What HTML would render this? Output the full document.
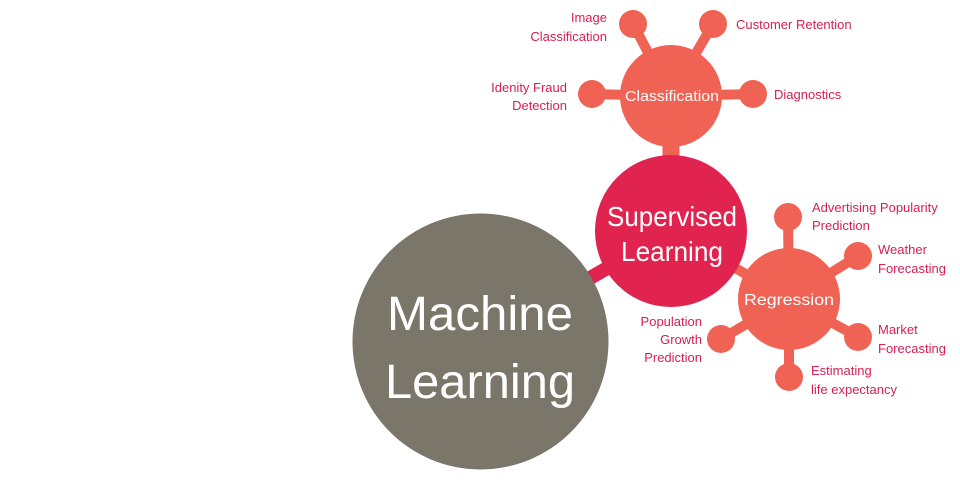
<!DOCTYPE html>
<html><head><meta charset="utf-8"><style>
html,body{margin:0;padding:0;background:#fff;}
svg{display:block;}
text{font-family:"Liberation Sans",sans-serif;}
.l{fill:#d81e52;font-size:13px;}
</style></head><body>
<svg width="960" height="494" viewBox="0 0 960 494">
<g stroke="#f06253" stroke-width="10" stroke-linecap="butt">
<line x1="671" y1="96" x2="633" y2="24"/>
<line x1="671" y1="96" x2="713" y2="24"/>
<line x1="671" y1="96" x2="592" y2="94"/>
<line x1="671" y1="96" x2="753" y2="94"/>
<line x1="789" y1="299" x2="788" y2="217"/>
<line x1="789" y1="299" x2="858" y2="256"/>
<line x1="789" y1="299" x2="858" y2="337"/>
<line x1="789" y1="299" x2="789" y2="377"/>
<line x1="789" y1="299" x2="721" y2="339"/>
<line x1="671" y1="231" x2="789" y2="299"/>
</g>
<line x1="671" y1="96" x2="671" y2="231" stroke="#f06253" stroke-width="17"/>
<line x1="480" y1="342" x2="671" y2="231" stroke="#e0234f" stroke-width="14"/>
<g fill="#f06253">
<circle cx="633" cy="24" r="14"/><circle cx="713" cy="24" r="14"/>
<circle cx="592" cy="94" r="14"/><circle cx="753" cy="94" r="14"/>
<circle cx="788" cy="217" r="14"/><circle cx="858" cy="256" r="14"/>
<circle cx="858" cy="337" r="14"/><circle cx="789" cy="377" r="14"/>
<circle cx="721" cy="339" r="14"/>
<circle cx="671" cy="96" r="51"/>
<circle cx="789" cy="299" r="51"/>
</g>
<circle cx="480.5" cy="341.5" r="128" fill="#7b766a"/>
<circle cx="671" cy="231" r="76" fill="#e0234f"/>
<g fill="#fff" text-anchor="middle">
<text x="480" y="330" font-size="48" textLength="186" lengthAdjust="spacingAndGlyphs">Machine</text>
<text x="480" y="398" font-size="48" textLength="190" lengthAdjust="spacingAndGlyphs">Learning</text>
<text x="672" y="226" font-size="28" textLength="130" lengthAdjust="spacingAndGlyphs">Supervised</text>
<text x="672" y="261" font-size="28" textLength="102" lengthAdjust="spacingAndGlyphs">Learning</text>
<text x="672" y="101" font-size="15" textLength="94" lengthAdjust="spacingAndGlyphs">Classification</text>
<text x="789" y="305" font-size="16" textLength="90" lengthAdjust="spacingAndGlyphs">Regression</text>
</g>
<g class="l">
<text x="607" y="22" text-anchor="end">Image</text>
<text x="607" y="41" text-anchor="end">Classification</text>
<text x="736" y="29">Customer Retention</text>
<text x="567" y="92" text-anchor="end">Idenity Fraud</text>
<text x="567" y="110" text-anchor="end">Detection</text>
<text x="774" y="99">Diagnostics</text>
<text x="812" y="212">Advertising Popularity</text>
<text x="812" y="230">Prediction</text>
<text x="878" y="254">Weather</text>
<text x="878" y="273">Forecasting</text>
<text x="878" y="334">Market</text>
<text x="878" y="353">Forecasting</text>
<text x="811" y="375">Estimating</text>
<text x="811" y="394">life expectancy</text>
<text x="702" y="326" text-anchor="end">Population</text>
<text x="702" y="344" text-anchor="end">Growth</text>
<text x="702" y="362" text-anchor="end">Prediction</text>
</g>
</svg>
</body></html>
